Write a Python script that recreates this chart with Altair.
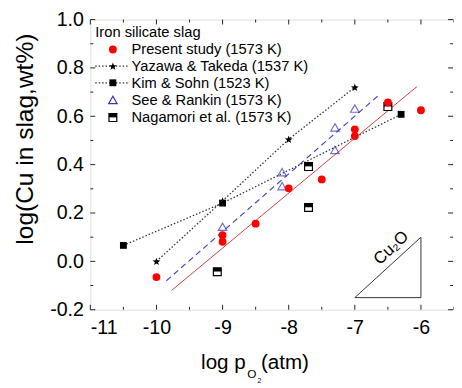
import math
import altair as alt
import pandas as pd

# ---------------- data ----------------
present_x = [-10, -9, -9, -8.5, -8, -7.5, -7, -7, -6.5, -6]
present_y = [-0.065, 0.108, 0.081, 0.156, 0.302, 0.339, 0.546, 0.518, 0.657, 0.625]
present_fit_x = [-9.77, -6.06]
present_fit_y = [-0.12, 0.723]

yazawa_x = [-10, -9, -8, -7]
yazawa_y = [0.0, 0.25, 0.505, 0.72]

kim_x = [-10.5, -9, -6.3]
kim_y = [0.066, 0.241, 0.608]

see_x = [-9, -8.1, -8.1, -7.3, -7.3, -7]
see_y = [0.143, 0.369, 0.311, 0.554, 0.461, 0.632]
see_fit_x = [-9.85, -6.63]
see_fit_y = [-0.08, 0.689]

naga_x = [-9.08, -7.7, -7.7, -6.5]
naga_y = [-0.043, 0.392, 0.223, 0.64]

tri_x = [-7, -6, -6, -7]
tri_y = [-0.15, -0.15, 0.10, -0.15]
tri_label = "Cu₂O"

x_major = [-11, -10, -9, -8, -7, -6]
x_minor = [-10.5, -9.5, -8.5, -7.5, -6.5, -5.5]
y_major = [-0.2, 0.0, 0.2, 0.4, 0.6, 0.8, 1.0]
y_minor = [-0.1, 0.1, 0.3, 0.5, 0.7, 0.9]

legend_title = "Iron silicate slag"
legend_labels = ["Present study (1573 K)", "Yazawa & Takeda (1537 K)",
                 "Kim & Sohn (1523 K)", "See & Rankin (1573 K)",
                 "Nagamori et al. (1573 K)"]

y_title = "log(Cu in slag,wt%)"

# ---------------- styling ----------------
W, H = 371, 296
FONT = "Liberation Sans"
RED = "#ff0000"
RED_LINE = "#d0403c"
BLUE = "#3535b5"
BLUE_LINE = "#4848c8"
FRAME = "#222222"

xs = alt.Scale(domain=[-11, -5.5], nice=False, zero=False)
ys = alt.Scale(domain=[-0.2, 1.0], nice=False, zero=False)

star_pts = []
for i in range(10):
    r = 1.0 if i % 2 == 0 else 0.42
    a = math.radians(-90 + 36 * i)
    star_pts.append(f"{r*math.cos(a):.3f},{r*math.sin(a)+0.1:.3f}")
STAR = "M" + "L".join(star_pts) + "Z"
HALF_TOP = "M-1,-1L1,-1L1,-0.05L-1,-0.05Z"

xaxis = alt.Axis(values=x_major, tickSize=0, domain=False, grid=False,
                 labelFontSize=20, labelFont=FONT, labelColor="black",
                 labelPadding=8, title=None,
                 labelExpr="replace(datum.label, '−', '-')")
yaxis = alt.Axis(values=y_major, tickSize=0, domain=False, grid=False,
                 labelFontSize=20, labelFont=FONT, labelColor="black",
                 labelPadding=7, title=None, format=".1f",
                 labelExpr="replace(datum.label, '−', '-')")


def X(f="x"):
    return alt.X(f"{f}:Q", scale=xs, axis=xaxis)


def Y(f="y"):
    return alt.Y(f"{f}:Q", scale=ys, axis=yaxis)


def df(x, y):
    return pd.DataFrame({"x": x, "y": y, "o": list(range(len(x)))})


layers = []

# ticks (inward)
xmaj = pd.DataFrame({"x": x_major})
xmin = pd.DataFrame({"x": x_minor})
ymaj = pd.DataFrame({"y": y_major})
ymin = pd.DataFrame({"y": y_minor})
tick_style = dict(color=FRAME, strokeWidth=1)
layers += [
    alt.Chart(xmaj).mark_rule(**tick_style).encode(x=X(), y=alt.value(H), y2=alt.value(H - 5)),
    alt.Chart(xmin).mark_rule(**tick_style).encode(x=X(), y=alt.value(H), y2=alt.value(H - 3)),
    alt.Chart(xmaj).mark_rule(**tick_style).encode(x=X(), y=alt.value(0), y2=alt.value(5)),
    alt.Chart(xmin).mark_rule(**tick_style).encode(x=X(), y=alt.value(0), y2=alt.value(3)),
    alt.Chart(ymaj).mark_rule(**tick_style).encode(y=Y(), x=alt.value(0), x2=alt.value(5)),
    alt.Chart(ymin).mark_rule(**tick_style).encode(y=Y(), x=alt.value(0), x2=alt.value(3)),
    alt.Chart(ymaj).mark_rule(**tick_style).encode(y=Y(), x=alt.value(W - 1), x2=alt.value(W - 6)),
    alt.Chart(ymin).mark_rule(**tick_style).encode(y=Y(), x=alt.value(W - 1), x2=alt.value(W - 4)),
]

# fit lines
layers.append(alt.Chart(df(present_fit_x, present_fit_y)).mark_line(
    color=RED_LINE, strokeWidth=1).encode(x=X(), y=Y(), order="o:Q"))
layers.append(alt.Chart(df(see_fit_x, see_fit_y)).mark_line(
    color=BLUE_LINE, strokeWidth=1.2, strokeDash=[6, 4]).encode(x=X(), y=Y(), order="o:Q"))

# dotted connecting lines
layers.append(alt.Chart(df(yazawa_x, yazawa_y)).mark_line(
    color="#333333", strokeWidth=1.3, strokeDash=[1.5, 2]).encode(x=X(), y=Y(), order="o:Q"))
layers.append(alt.Chart(df(kim_x, kim_y)).mark_line(
    color="#333333", strokeWidth=1.3, strokeDash=[1.5, 2]).encode(x=X(), y=Y(), order="o:Q"))

# markers
layers.append(alt.Chart(df(see_x, see_y)).mark_point(
    shape="triangle-up", filled=False, color=BLUE, size=75, strokeWidth=1.2).encode(x=X(), y=Y()))
layers.append(alt.Chart(df(naga_x, naga_y)).mark_point(
    shape="square", filled=True, fill="white", stroke="black", strokeWidth=1.2, size=64,
    opacity=1).encode(x=X(), y=Y()))
layers.append(alt.Chart(df(naga_x, naga_y)).mark_point(
    shape=HALF_TOP, filled=True, color="black", size=64, opacity=1).encode(x=X(), y=Y()))
layers.append(alt.Chart(df(kim_x, kim_y)).mark_point(
    shape="square", filled=True, color="black", size=49, opacity=1).encode(x=X(), y=Y()))
layers.append(alt.Chart(df(yazawa_x, yazawa_y)).mark_point(
    shape=STAR, filled=True, color="black", size=70, opacity=1).encode(x=X(), y=Y()))
layers.append(alt.Chart(df(present_x, present_y)).mark_point(
    shape="circle", filled=True, color=RED, size=64, opacity=1).encode(x=X(), y=Y()))

# Cu2O slope triangle
layers.append(alt.Chart(df(tri_x, tri_y)).mark_line(
    color="#333333", strokeWidth=1).encode(x=X(), y=Y(), order="o:Q"))
layers.append(alt.Chart(pd.DataFrame({"x": [-6.45], "y": [0.055], "t": [tri_label]})).mark_text(
    font=FONT, fontSize=17, angle=317, color="black", align="center", baseline="middle").encode(
    x=X(), y=Y(), text="t:N"))

# legend (pixel positions, scale=None)
row_y = [30.5, 47.5, 64.5, 82, 100]
leg_text = pd.DataFrame({"lx": [42] * 5, "ly": row_y, "t": legend_labels})
layers.append(alt.Chart(leg_text).mark_text(
    font=FONT, fontSize=15, align="left", baseline="middle", color="black").encode(
    x=alt.X("lx:Q", scale=None), y=alt.Y("ly:Q", scale=None), text="t:N"))
layers.append(alt.Chart(pd.DataFrame({"lx": [5], "ly": [12.5], "t": [legend_title]})).mark_text(
    font=FONT, fontSize=15, align="left", baseline="middle", color="black").encode(
    x=alt.X("lx:Q", scale=None), y=alt.Y("ly:Q", scale=None), text="t:N"))
leg_lines = pd.DataFrame({"lx": [5, 5], "lx2": [40, 40], "ly": row_y[1:3]})
layers.append(alt.Chart(leg_lines).mark_rule(
    color="#333333", strokeWidth=1.3, strokeDash=[1.5, 2]).encode(
    x=alt.X("lx:Q", scale=None), x2="lx2:Q", y=alt.Y("ly:Q", scale=None)))


def leg_sym(i, **kw):
    d = pd.DataFrame({"lx": [23], "ly": [row_y[i]]})
    return alt.Chart(d).mark_point(opacity=1, **kw).encode(
        x=alt.X("lx:Q", scale=None), y=alt.Y("ly:Q", scale=None))


layers += [
    leg_sym(0, shape="circle", filled=True, color=RED, size=64),
    leg_sym(1, shape=STAR, filled=True, color="black", size=70),
    leg_sym(2, shape="square", filled=True, color="black", size=49),
    leg_sym(3, shape="triangle-up", filled=False, color=BLUE, size=75, strokeWidth=1.2),
    leg_sym(4, shape="square", filled=True, fill="white", stroke="black", strokeWidth=1.2, size=64),
    leg_sym(4, shape=HALF_TOP, filled=True, color="black", size=64),
]

# axis titles as text marks (pixel positions relative to plot)
layers.append(alt.Chart(pd.DataFrame({"t": [y_title]})).mark_text(
    font=FONT, fontSize=25, angle=270, align="center", baseline="middle", color="black").encode(
    x=alt.value(-67), y=alt.value(122), text="t:N"))
title_parts = pd.DataFrame({
    "t": ["log p", "O", "2", "(atm)"],
    "px": [113, 160, 170.5, 174],
    "py": [357, 366, 370.5, 357],
    "fs": [21, 12, 7, 21],
})
for _, r in title_parts.iterrows():
    layers.append(alt.Chart(pd.DataFrame({"t": [r["t"]]})).mark_text(
        font=FONT, fontSize=float(r["fs"]), align="left", baseline="alphabetic",
        color="black").encode(x=alt.value(float(r["px"])), y=alt.value(float(r["py"])),
                              text="t:N"))

chart = alt.layer(*layers).properties(
    width=W, height=H,
    autosize=alt.AutoSizeParams(type="none"),
    padding={"left": 84, "top": 8, "right": 0, "bottom": 72},
).configure_view(stroke=FRAME, strokeWidth=1).configure(background="white")

chart.save("out.html", embed_options={"renderer": "svg", "actions": False})
